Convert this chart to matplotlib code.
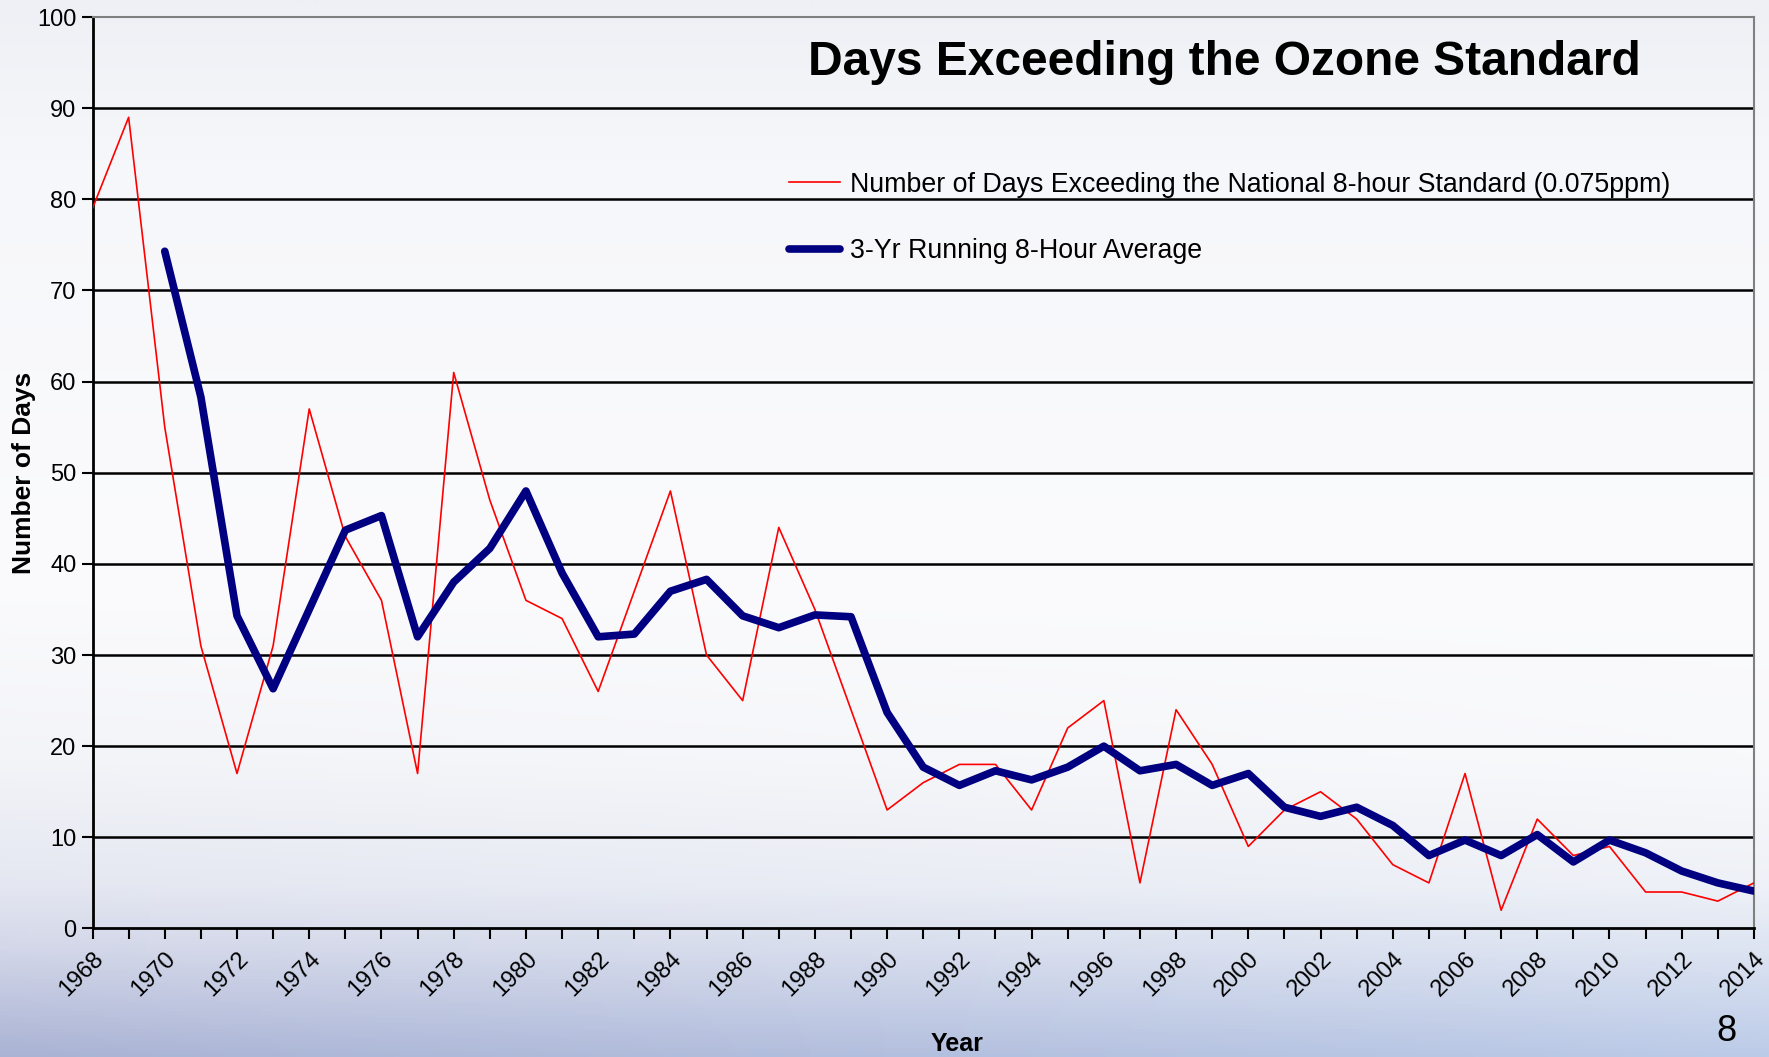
import numpy as np
import matplotlib
matplotlib.use('Agg')
import matplotlib.pyplot as plt
from matplotlib.colors import to_rgb

plt.rcParams['font.family'] = ['Liberation Sans', 'DejaVu Sans']

# Data
years = list(range(1968, 2015))
days_exceeding = [79, 89, 55, 31, 17, 31, 57, 43, 36, 17, 61, 47, 36, 34, 26, 37,
                  48, 30, 25, 44, 35, 24, 13, 16, 18, 18, 13, 22, 25, 5, 24, 18,
                  9, 13, 15, 12, 7, 5, 17, 2, 12, 8, 9, 4, 4, 3, 5]
avg_years = list(range(1970, 2015))
running_avg = [74.3, 58.3, 34.3, 26.3, 35.0, 43.7, 45.3, 32.0, 38.0, 41.7, 48.0,
               39.0, 32.0, 32.3, 37.0, 38.3, 34.3, 33.0, 34.4, 34.2, 23.7, 17.7,
               15.7, 17.3, 16.3, 17.7, 20.0, 17.3, 18.0, 15.7, 17.0, 13.3, 12.3,
               13.3, 11.3, 8.0, 9.7, 8.0, 10.3, 7.3, 9.7, 8.3, 6.3, 5.0, 4.1]
year_labels = [str(y) for y in range(1968, 2015, 2)]

fig = plt.figure(figsize=(17.69, 10.57), dpi=100)

# background: pale slide, sky/cloud blue along the bottom
H, W = 300, 400
stops = [0.0, 0.15, 0.55, 0.72, 0.84, 0.9, 1.0]
left_cols = ['#eef0f5', '#f6f7fa', '#fbfbfd', '#f3f4f8', '#e4e7f1', '#d2d6e8', '#aab3d4']
right_cols = ['#eef0f5', '#f6f7fa', '#fbfbfd', '#f8f9fb', '#eef1f7', '#dde4f2', '#bccbe8']
yy = np.linspace(0, 1, H)
left = np.array([np.interp(yy, stops, [to_rgb(c)[k] for c in left_cols]) for k in range(3)]).T
right = np.array([np.interp(yy, stops, [to_rgb(c)[k] for c in right_cols]) for k in range(3)]).T
xx = np.linspace(0, 1, W)[None, :, None]
bg_img = left[:, None, :] * (1 - xx) + right[:, None, :] * xx
bg = fig.add_axes([0, 0, 1, 1], zorder=-10)
bg.imshow(bg_img, aspect='auto', extent=[0, 1, 0, 1], origin='upper')
bg.set_axis_off()

ax = fig.add_axes([0.0523, 0.1216, 0.9392, 0.8623])
ax.set_facecolor('none')

ax.plot(years, days_exceeding, color='#ff0000', lw=1.2,
        label='Number of Days Exceeding the National 8-hour Standard (0.075ppm)', zorder=3)
ax.plot(avg_years, running_avg, color='#000080', lw=5.5, solid_capstyle='round',
        solid_joinstyle='round', label='3-Yr Running 8-Hour Average', zorder=4)

ax.set_xlim(1968, 2014)
ax.set_ylim(0, 100)
ax.set_yticks(range(0, 101, 10))
ax.set_xticks(range(1968, 2015, 2))
ax.set_xticks(range(1968, 2015), minor=True)
ax.set_xticklabels(year_labels, rotation=45, ha='right', va='top',
                   rotation_mode='anchor')
ax.tick_params(axis='both', which='both', direction='out', length=8, width=1.5,
               labelsize=17)
ax.tick_params(axis='x', pad=6)

for y in range(10, 100, 10):
    ax.axhline(y, color='black', lw=1.8, zorder=1)

for side in ['left', 'bottom']:
    ax.spines[side].set_linewidth(2)
    ax.spines[side].set_color('black')
for side in ['top', 'right']:
    ax.spines[side].set_linewidth(1.5)
    ax.spines[side].set_color('#808080')

ax.set_ylabel('Number of Days', fontsize=19, fontweight='bold', labelpad=1)
fig.text(0.541, 0.0125, 'Year', fontsize=18, fontweight='bold', ha='center', va='center')

ax.text(0.681, 0.950, 'Days Exceeding the Ozone Standard', transform=ax.transAxes,
        fontsize=34.5, fontweight='bold', ha='center', va='center')

leg = ax.legend(loc='upper left', bbox_to_anchor=(0.413, 0.842), frameon=False,
                fontsize=19.3, handlelength=1.9, handletextpad=0.35, labelspacing=1.5,
                borderaxespad=0)

fig.text(0.976, 0.024, '8', fontsize=26, ha='center', va='center')

fig.savefig('out.png', dpi=100)
